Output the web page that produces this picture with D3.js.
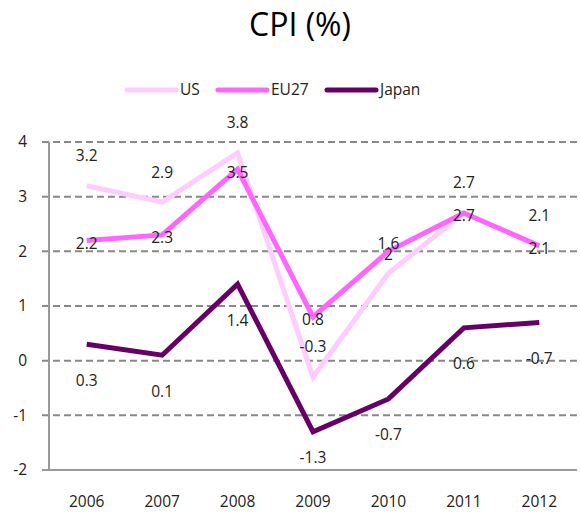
<!DOCTYPE html>
<html>
  <head>
    <meta charset="utf-8">
    <title>CPI (%)</title>
    <script src="https://cdn.jsdelivr.net/npm/d3@7"></script>
    <style type="text/css">
      body {
        margin: 0;
        background: #fff;
      }
      text {
        font-family: "Open Sans", "Noto Sans", sans-serif;
        font-weight: 400;
        font-size: 15.5px;
        fill: #222;
      }
      .title {
        font-weight: 400;
        font-size: 32px;
        fill: #000;
      }
      .grid line {
        stroke: #888;
        stroke-width: 2px;
        stroke-dasharray: 7,4;
      }
      .axis-line {
        stroke: #999;
        stroke-width: 2px;
      }
      .series {
        fill: none;
        stroke-width: 5px;
        stroke-linejoin: miter;
      }
    </style>
  </head>
<body>
  <div id="chart"></div>
  <script type="text/javascript">
    var years = ["2006", "2007", "2008", "2009", "2010", "2011", "2012"];
    var us = [3.2, 2.9, 3.8, -0.3, 1.6, 2.7, 2.1];
    var eu27 = [2.2, 2.3, 3.5, 0.8, 2, 2.7, 2.1];
    var japan = [0.3, 0.1, 1.4, -1.3, -0.7, 0.6, 0.7];
    // label text as printed on the chart (2012 Japan reads -0.7)
    var japanLabels = ["0.3", "0.1", "1.4", "-1.3", "-0.7", "0.6", "-0.7"];
    var yTicks = [-2, -1, 0, 1, 2, 3, 4];

    var width = 580, height = 517;
    var plotLeft = 49, plotRight = 577, plotTop = 142, plotBottom = 470;

    var svg = d3.select("#chart").append("svg")
      .attr("width", width)
      .attr("height", height);

    var x = d3.scalePoint().domain(years).range([plotLeft, plotRight]).padding(0.5);
    var y = d3.scaleLinear().domain([-2, 4]).range([plotBottom, plotTop]);

    // title
    svg.append("text")
      .attr("class", "title")
      .attr("x", 300).attr("y", 36)
      .attr("text-anchor", "middle")
      .text("CPI (%)");

    // gridlines
    svg.append("g").attr("class", "grid")
      .selectAll("line")
      .data(yTicks.filter(function (d) { return d > -2; }))
      .enter().append("line")
      .attr("x1", plotLeft - 7).attr("x2", plotRight)
      .attr("y1", function (d) { return y(d); })
      .attr("y2", function (d) { return y(d); });

    // axes
    svg.append("line").attr("class", "axis-line")
      .attr("x1", plotLeft).attr("x2", plotLeft)
      .attr("y1", plotTop).attr("y2", plotBottom);
    svg.append("line").attr("class", "axis-line")
      .attr("x1", plotLeft - 7).attr("x2", plotRight)
      .attr("y1", plotBottom).attr("y2", plotBottom);

    svg.append("g").selectAll("text")
      .data(yTicks)
      .enter().append("text")
      .attr("x", 27)
      .attr("y", function (d) { return y(d); })
      .attr("dy", "0.35em")
      .attr("text-anchor", "end")
      .text(function (d) { return d; });

    svg.append("g").selectAll("text")
      .data(years)
      .enter().append("text")
      .attr("x", function (d) { return x(d); })
      .attr("y", 502)
      .attr("dy", "0.35em")
      .attr("text-anchor", "middle")
      .text(function (d) { return d; });

    var series = [
      { name: "US", values: us, color: "#ffccff", labels: us.map(String), dy: -30 },
      { name: "EU27", values: eu27, color: "#ff66ff", labels: eu27.map(String), dy: 3 },
      { name: "Japan", values: japan, color: "#660066", labels: japanLabels, dy: 36 }
    ];

    var line = d3.line()
      .x(function (d, i) { return x(years[i]); })
      .y(function (d) { return y(d); });

    svg.append("g").selectAll("path")
      .data(series)
      .enter().append("path")
      .attr("class", "series")
      .attr("stroke", function (d) { return d.color; })
      .attr("d", function (d) { return line(d.values); });

    // data labels
    series.forEach(function (s) {
      svg.append("g").selectAll("text")
        .data(s.values)
        .enter().append("text")
        .attr("x", function (d, i) { return x(years[i]); })
        .attr("y", function (d) { return Math.min(y(d) + s.dy, plotBottom - 12); })
        .attr("dy", "0.35em")
        .attr("text-anchor", "middle")
        .text(function (d, i) { return s.labels[i]; });
    });

    // legend
    var legendX = [127, 218, 327];
    var legend = svg.append("g").selectAll("g")
      .data(series)
      .enter().append("g")
      .attr("transform", function (d, i) { return "translate(" + legendX[i] + ",90)"; });
    legend.append("line")
      .attr("x1", 0).attr("x2", 49)
      .attr("stroke", function (d) { return d.color; })
      .attr("stroke-width", 5)
      .attr("stroke-linecap", "round");
    legend.append("text")
      .attr("x", 53)
      .attr("dy", "0.35em")
      .text(function (d) { return d.name; });
  </script>
</body>
</html>
